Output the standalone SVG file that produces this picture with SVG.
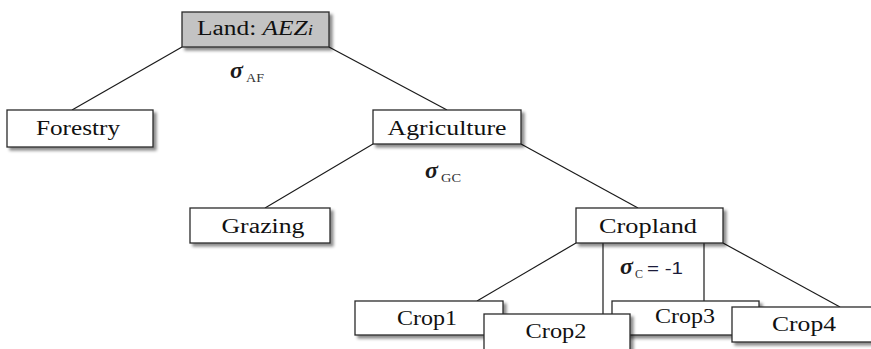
<svg xmlns="http://www.w3.org/2000/svg" width="871" height="349" viewBox="0 0 871 349">
<defs>
<filter id="sh" x="-10%" y="-20%" width="130%" height="160%">
<feDropShadow dx="3" dy="3" stdDeviation="1.6" flood-color="#000" flood-opacity="0.45"/>
</filter>
</defs>
<style>
.box{fill:#fff;stroke:#2a2a2a;stroke-width:1.3;filter:url(#sh)}
.gray{fill:#c3c3c3}
.lbl{font-family:"Liberation Serif",serif;font-size:20px;fill:#111;text-anchor:middle}
.conn line{stroke:#1a1a1a;stroke-width:1.2}
.sig{font-family:"Liberation Serif",serif;font-weight:bold;font-style:italic;font-size:24px;fill:#1a1a1a}
.sub{font-family:"Liberation Serif",serif;font-size:12px;fill:#333}
</style>
<rect width="871" height="349" fill="#fff"/>
<g id="connectors" class="conn">
<line x1="182" y1="47" x2="72" y2="110"/>
<line x1="329" y1="47" x2="447" y2="110"/>
<line x1="373" y1="144" x2="265" y2="208"/>
<line x1="521" y1="144" x2="638" y2="208"/>
<line x1="576" y1="243" x2="477" y2="301"/>
<line x1="603" y1="243" x2="603" y2="314"/>
<line x1="704" y1="243" x2="704" y2="301"/>
<line x1="723" y1="243" x2="840" y2="307"/>
</g>
<g id="land">
<rect class="box gray" x="182" y="12" width="147" height="35"/>
<text class="lbl" x="255" y="35" textLength="116" lengthAdjust="spacingAndGlyphs">Land: <tspan font-style="italic">AEZ</tspan><tspan font-style="italic" font-size="15">i</tspan></text>
</g>
<g id="forestry">
<rect class="box" x="7" y="110" width="146" height="37"/>
<text class="lbl" x="78" y="135" textLength="84" lengthAdjust="spacingAndGlyphs">Forestry</text>
</g>
<g id="agriculture">
<rect class="box" x="373" y="110" width="148" height="34"/>
<text class="lbl" x="447" y="135" textLength="119" lengthAdjust="spacingAndGlyphs">Agriculture</text>
</g>
<g id="grazing">
<rect class="box" x="190" y="208" width="140" height="35"/>
<text class="lbl" x="263" y="233" textLength="83" lengthAdjust="spacingAndGlyphs">Grazing</text>
</g>
<g id="cropland">
<rect class="box" x="576" y="208" width="147" height="35"/>
<text class="lbl" x="648" y="233" textLength="98" lengthAdjust="spacingAndGlyphs">Cropland</text>
</g>
<g id="crop1">
<rect class="box" x="355" y="301" width="148" height="34"/>
<text class="lbl" x="427" y="325" textLength="60" lengthAdjust="spacingAndGlyphs">Crop1</text>
</g>
<g id="crop3">
<rect class="box" x="612" y="301" width="147" height="34"/>
<text class="lbl" x="685" y="323" textLength="60" lengthAdjust="spacingAndGlyphs">Crop3</text>
</g>
<g id="crop4">
<rect class="box" x="732" y="307" width="145" height="35"/>
<text class="lbl" x="804" y="331" textLength="64" lengthAdjust="spacingAndGlyphs">Crop4</text>
</g>
<g id="crop2">
<rect class="box" x="484" y="314" width="146" height="50"/>
<text class="lbl" x="556" y="338" textLength="61" lengthAdjust="spacingAndGlyphs">Crop2</text>
</g>
<g id="sigma-af">
<text class="sig" x="230" y="78">σ</text>
<text class="sub" x="246" y="82" textLength="18" lengthAdjust="spacingAndGlyphs">AF</text>
</g>
<g id="sigma-gc">
<text class="sig" x="425" y="178">σ</text>
<text class="sub" x="441" y="182" textLength="20" lengthAdjust="spacingAndGlyphs">GC</text>
</g>
<g id="sigma-c">
<text class="sig" x="620" y="274">σ</text>
<text class="sub" x="635" y="278" font-size="14" fill="#2e6fb5">C</text>
<text x="647" y="274" font-family="Liberation Sans, sans-serif" font-size="17" fill="#1c1c3a" textLength="36" lengthAdjust="spacingAndGlyphs">= -1</text>
</g>
</svg>
